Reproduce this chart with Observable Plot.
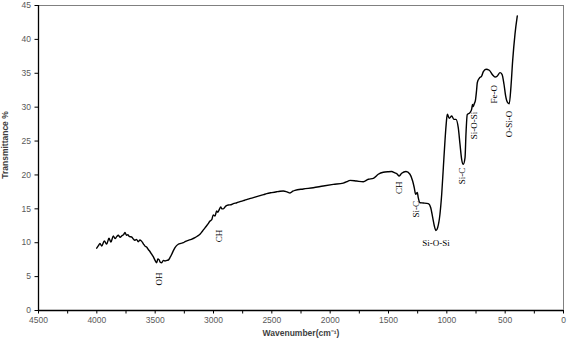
<!DOCTYPE html>
<html>
<head>
<meta charset="utf-8">
<script src="https://cdn.jsdelivr.net/npm/d3@7"></script>
<script src="https://cdn.jsdelivr.net/npm/@observablehq/plot@0.6"></script>
<style>
  html, body { margin: 0; padding: 0; background: #fff; }
  #chart svg { display: block; }
</style>
</head>
<body>
<div id="chart"></div>
<script>
// FTIR spectrum values
const wavenumber = [
  4001, 3985, 3973, 3958, 3936, 3915, 3896, 3879, 3859, 3844, 3830, 3816, 3800, 3787, 3770, 3759,
  3745, 3735, 3720, 3701, 3690, 3673, 3660, 3645, 3630, 3615, 3600, 3587, 3570, 3559, 3545, 3530,
  3515, 3501, 3487, 3477, 3467, 3455, 3444, 3430, 3416, 3400, 3387, 3370, 3358, 3345, 3330, 3302,
  3280, 3259, 3240, 3216, 3190, 3159, 3140, 3116, 3095, 3073, 3050, 3030, 3015, 3002, 2987, 2973,
  2962, 2950, 2938, 2928, 2916, 2895, 2873, 2850, 2830, 2800, 2773, 2745, 2716, 2690, 2659, 2630,
  2601, 2570, 2544, 2500, 2458, 2430, 2402, 2370, 2344, 2320, 2302, 2230, 2145, 2059, 1973, 1888,
  1850, 1830, 1773, 1716, 1673, 1630, 1588, 1545, 1502, 1473, 1445, 1430, 1408, 1387, 1350, 1316,
  1293, 1279, 1267, 1253, 1245, 1230, 1202, 1159, 1138, 1121, 1107, 1093, 1079, 1059, 1044, 1030,
  1016, 1005, 996, 979, 958, 939, 922, 902, 887, 873, 859, 844, 836, 825, 802, 787,
  780, 773, 765, 755, 745, 739, 722, 701, 687, 664, 636, 607, 587, 567, 544, 527,
  510, 496, 479, 465, 450, 436, 416, 396
];
const transmittance = [
  9.2, 9.6, 9.9, 9.5, 10.25, 9.8, 10.65, 10.1, 11.0, 10.6, 10.9, 11.1, 10.8, 11.0, 11.2, 11.5,
  11.1, 11.2, 10.9, 10.85, 10.6, 10.35, 10.5, 10.15, 10.4, 10.2, 9.8, 9.5, 9.3, 9.0, 8.7, 8.3,
  7.9, 7.4, 7.05, 7.6, 7.5, 7.1, 7.05, 7.4, 7.3, 7.4, 7.45, 7.9, 8.3, 8.8, 9.27, 9.77,
  9.9, 10.0, 10.2, 10.35, 10.5, 10.75, 10.95, 11.25, 11.7, 12.2, 12.7, 13.2, 13.4, 14.1, 13.94, 14.68,
  14.5, 14.93, 15.27, 15.0, 15.0, 15.4, 15.57, 15.6, 15.76, 15.9, 16.06, 16.2, 16.35, 16.5, 16.65, 16.8,
  16.94, 17.1, 17.24, 17.4, 17.53, 17.6, 17.63, 17.5, 17.34, 17.6, 17.73, 17.93, 18.12, 18.37, 18.6, 18.8,
  19.05, 19.2, 19.1, 19.0, 19.36, 19.5, 20.1, 20.4, 20.48, 20.5, 20.3, 20.2, 19.85, 20.25, 20.5, 20.1,
  19.1, 18.1, 17.15, 17.4, 16.65, 15.9, 15.86, 15.76, 15.17, 13.7, 12.47, 11.8, 12.2, 14.2, 17.15, 21.07,
  25.0, 27.6, 28.95, 28.36, 28.7, 28.2, 28.2, 26.97, 24.5, 22.3, 21.57, 22.55, 26.0, 28.9, 29.2, 29.7,
  30.4, 30.1, 30.5, 31.0, 32.5, 33.6, 34.26, 34.6, 35.24, 35.6, 35.45, 34.75, 34.45, 34.6, 35.09, 34.85,
  33.38, 31.65, 30.66, 30.5, 33.1, 36.8, 40.75, 43.46
];

// Band annotations
const bandText   = ["OH", "CH", "CH", "Si-C", "Si-O-Si", "Si-C", "Si-O-Si", "Fe-O", "O-Si-O"];
const bandW      = [3467, 2950, 1410, 1262, 1093, 866, 765, 593, 465];
const bandT      = [4.65, 11.0, 18.1, 14.93, 10.0, 19.85, 27.3, 31.9, 27.5];
const bandRotate = [-90, -90, -90, -90, 0, -90, -90, -90, -90];

// Axis ticks
const xTicks = d3.range(0, 4501, 250);
const yTicks = d3.range(0, 46, 5);

const spectrum = wavenumber.map((w, i) => ({w, t: transmittance[i]}));
const bands = bandText.map((s, i) => ({s, w: bandW[i], t: bandT[i], r: bandRotate[i]}));

const sans = "'Liberation Sans', Arial, sans-serif";
const serif = "'Liberation Serif', 'Times New Roman', serif";

const chart = Plot.plot({
  width: 567,
  height: 340,
  marginLeft: 38,
  marginRight: 4,
  marginTop: 5,
  marginBottom: 30,
  style: {background: "#fff", fontFamily: sans},
  x: {domain: [4500, 0]},
  y: {domain: [0, 45]},
  marks: [
    Plot.frame({stroke: "#808080", strokeWidth: 1}),
    Plot.axisX({
      ticks: xTicks, tickSize: 3.5, tickPadding: 3,
      tickFormat: d => (d % 500 === 0 ? String(d) : ""),
      stroke: "#000", fill: "#595959", fontSize: 8.5, label: null
    }),
    Plot.axisY({
      ticks: yTicks, tickSize: 3.5, tickPadding: 4,
      tickFormat: d => String(d),
      stroke: "#000", fill: "#595959", fontSize: 8.5, label: null
    }),
    Plot.ruleX([4500], {stroke: "#000", strokeWidth: 1.3}),
    Plot.ruleY([0], {stroke: "#000", strokeWidth: 1.3}),
    Plot.line(spectrum, {x: "w", y: "t", stroke: "#000", strokeWidth: 1.4, curve: "monotone-x"}),
    Plot.text(bands.filter(d => d.r !== 0), {
      x: "w", y: "t", text: "s", rotate: -90, textAnchor: "middle",
      fontFamily: serif, fontSize: 9, fill: "#000"
    }),
    Plot.text(bands.filter(d => d.r === 0), {
      x: "w", y: "t", text: "s", textAnchor: "middle",
      fontFamily: serif, fontSize: 9, fill: "#000"
    }),
    Plot.text(["Transmittance %"], {
      frameAnchor: "left", dx: -33, dy: -13, rotate: -90, textAnchor: "middle",
      fontWeight: "bold", fontSize: 8.5, fill: "#404040"
    }),
    Plot.text(["Wavenumber(cm\u207B\u00B9)"], {
      frameAnchor: "bottom", dy: 25, textAnchor: "middle",
      fontWeight: "bold", fontSize: 8.5, fill: "#404040"
    })
  ]
});
document.getElementById("chart").appendChild(chart);
</script>
</body>
</html>
